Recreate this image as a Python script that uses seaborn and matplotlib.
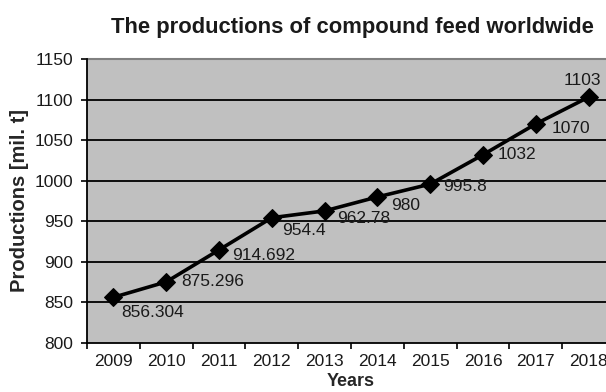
import matplotlib
matplotlib.use("Agg")
import matplotlib.pyplot as plt
import seaborn as sns
import pandas as pd
import numpy as np

years = ["2009", "2010", "2011", "2012", "2013", "2014", "2015", "2016", "2017", "2018"]
production = [856.304, 875.296, 914.692, 954.4, 962.78, 980, 995.8, 1032, 1070, 1103]
value_labels = ["856.304", "875.296", "914.692", "954.4", "962.78", "980", "995.8", "1032", "1070", "1103"]
y_ticks = [800, 850, 900, 950, 1000, 1050, 1100, 1150]

# label placement relative to each marker, in pixels (dx, dy), plus alignment
label_offsets = [(8, -15), (15, 0), (13, -6), (10, -13), (13, -8), (14, -9),
                 (13, -2), (15, 0), (16, -5), (-6, 17)]
label_align = ["left"] * 9 + ["center"]

sns.set_theme(style="white")
plt.rcParams["font.family"] = ["Liberation Sans", "DejaVu Sans"]

df = pd.DataFrame({"Year": years, "Production": production})

W, H = 606, 392
fig = plt.figure(figsize=(W / 100, H / 100), dpi=100)
fig.patch.set_facecolor("white")
ax = fig.add_axes([87 / W, 1 - 343 / H, (615 - 87) / W, (343 - 59) / H])
ax.set_facecolor("#C0C0C0")

x = np.arange(len(years))
sns.lineplot(data=df, x=x, y="Production", ax=ax, color="black", linewidth=2.6,
             marker="D", markersize=9, markeredgecolor="black", zorder=3)

ax.set_xlim(-0.5, len(years) - 0.5)
ax.set_ylim(800, 1150)
ax.set_yticks(y_ticks)
ax.set_yticklabels([str(t) for t in y_ticks], fontsize=12.5, color="#1a1a1a")
ax.set_xticks(x)
ax.set_xticklabels(years, fontsize=12.5, color="#1a1a1a")
ax.set_xticks(np.arange(len(years) + 1) - 0.5, minor=True)
ax.tick_params(axis="x", which="major", length=0, pad=8)
ax.tick_params(axis="x", which="minor", length=4, width=1.2, color="black", direction="out", bottom=True)
ax.tick_params(axis="y", which="major", length=4, width=1.2, color="black", direction="out", left=True, pad=6)

for t in y_ticks[1:-1]:
    ax.axhline(t, color="black", linewidth=1.3, zorder=1)
ax.axhline(1150, color="#808080", linewidth=1.5, zorder=1, clip_on=False)

for side in ["top", "right"]:
    ax.spines[side].set_visible(False)
for side in ["left", "bottom"]:
    ax.spines[side].set_color("black")
    ax.spines[side].set_linewidth(1.3)

for xi, yv, lab, (dx, dy), ha in zip(x, production, value_labels, label_offsets, label_align):
    ax.annotate(lab, (xi, yv), xytext=(dx, dy), textcoords="offset pixels",
                ha=ha, va="center", fontsize=12.5, color="#1a1a1a", zorder=4)

ax.set_xlabel("Years", fontsize=13, fontweight="bold", labelpad=3)
ax.set_ylabel("Productions [mil. t]", fontsize=14.5, fontweight="bold", labelpad=4)
fig.text(352 / W, 1 - 28 / H, "The productions of compound feed worldwide",
         ha="center", va="center", fontsize=15.8, fontweight="bold", color="#1a1a1a")

fig.savefig("out.png", dpi=100)
